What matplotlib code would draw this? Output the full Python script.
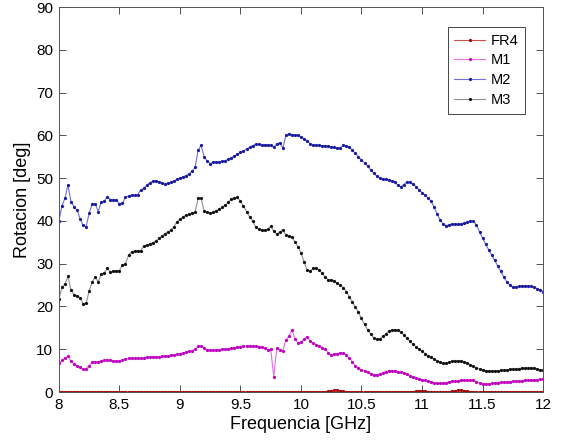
import numpy as np
import matplotlib
matplotlib.use('Agg')
import matplotlib.pyplot as plt

plt.rcParams['font.family'] = ['Liberation Sans', 'DejaVu Sans']

# frecuencia: 8 a 12 GHz, paso 0.025
f_start = 8.0
f_step = 0.025

fr4 = [0.1, 0.1, 0.1, 0.1, 0.1, 0.1, 0.1, 0.1,
       0.1, 0.1, 0.1, 0.1, 0.1, 0.1, 0.1, 0.1,
       0.1, 0.1, 0.1, 0.1, 0.1, 0.1, 0.1, 0.1,
       0.1, 0.1, 0.1, 0.1, 0.1, 0.1, 0.1, 0.1,
       0.1, 0.1, 0.1, 0.1, 0.1, 0.1, 0.1, 0.1,
       0.1, 0.1, 0.1, 0.1, 0.1, 0.1, 0.1, 0.1,
       0.1, 0.1, 0.1, 0.1, 0.1, 0.1, 0.1, 0.1,
       0.1, 0.1, 0.1, 0.1, 0.1, 0.1, 0.1, 0.1,
       0.1, 0.1, 0.1, 0.1, 0.1, 0.1, 0.1, 0.1,
       0.1, 0.1, 0.1, 0.1, 0.1, 0.1, 0.1, 0.1,
       0.1, 0.1, 0.1, 0.1, 0.1, 0.1, 0.1, 0.1,
       0.1, 0.2, 0.3, 0.4, 0.4, 0.3, 0.2, 0.1,
       0.1, 0.1, 0.1, 0.1, 0.1, 0.1, 0.1, 0.1,
       0.1, 0.1, 0.1, 0.1, 0.1, 0.1, 0.1, 0.1,
       0.1, 0.1, 0.1, 0.1, 0.1, 0.1, 0.2, 0.3,
       0.3, 0.2, 0.1, 0.1, 0.1, 0.1, 0.1, 0.1,
       0.1, 0.1, 0.2, 0.3, 0.4, 0.4, 0.3, 0.2,
       0.1, 0.1, 0.1, 0.1, 0.1, 0.1, 0.1, 0.1,
       0.1, 0.1, 0.1, 0.1, 0.1, 0.1, 0.1, 0.1,
       0.1, 0.1, 0.1, 0.1, 0.1, 0.1, 0.1, 0.1,
       0.1]

m1 = [6.7, 7.4, 8.0, 8.4, 7.2, 6.5, 6.1, 5.8,
      5.3, 5.5, 6.2, 7.0, 7.1, 7.1, 7.2, 7.5,
      7.6, 7.4, 7.3, 7.2, 7.3, 7.5, 7.7, 7.9,
      7.9, 7.9, 7.9, 7.9, 8.0, 8.1, 8.2, 8.3,
      8.3, 8.3, 8.4, 8.4, 8.5, 8.6, 8.7, 8.8,
      8.9, 9.1, 9.3, 9.5, 9.7, 10.0, 10.7, 10.8,
      10.4, 9.9, 9.8, 9.8, 9.9, 9.9, 10.0, 10.0,
      10.1, 10.2, 10.4, 10.5, 10.6, 10.7, 10.8, 10.8,
      10.8, 10.7, 10.6, 10.5, 10.3, 9.8, 10.0, 3.6,
      10.2, 9.9, 9.6, 12.2, 13.0, 14.5, 12.5, 11.4,
      11.8, 12.4, 12.9, 12.0, 11.4, 11.1, 10.8, 10.4,
      10.0, 9.2, 8.6, 8.8, 9.0, 9.2, 9.1, 8.6,
      8.0, 7.0, 6.1, 5.6, 5.2, 4.9, 4.6, 4.3,
      4.1, 4.0, 4.2, 4.5, 4.8, 5.0, 5.0, 5.0,
      4.8, 4.6, 4.4, 4.2, 3.8, 3.5, 3.2, 3.1,
      2.9, 2.8, 2.6, 2.4, 2.2, 2.0, 2.0, 2.0,
      2.2, 2.4, 2.6, 2.6, 2.6, 2.7, 2.8, 2.8,
      2.8, 2.7, 2.4, 2.1, 1.9, 1.9, 1.9, 2.0,
      2.1, 2.2, 2.3, 2.3, 2.4, 2.4, 2.5, 2.5,
      2.6, 2.6, 2.7, 2.8, 2.8, 2.9, 2.9, 3.0,
      3.0]

m2 = [40.0, 43.5, 45.3, 48.4, 44.5, 43.3, 42.5, 40.5,
      39.0, 38.7, 41.8, 43.9, 44.0, 42.2, 44.4, 44.6,
      45.7, 45.0, 45.0, 44.9, 44.0, 44.2, 45.5, 45.9,
      46.0, 46.0, 46.1, 47.2, 47.6, 48.3, 48.9, 49.3,
      49.4, 49.2, 48.9, 48.6, 48.8, 49.1, 49.4, 49.7,
      50.0, 50.3, 50.6, 51.0, 51.6, 52.5, 56.5, 57.7,
      55.0, 54.0, 53.4, 53.7, 53.8, 53.8, 53.9, 54.1,
      54.4, 54.8, 55.2, 55.6, 56.0, 56.4, 56.8, 57.2,
      57.6, 57.9, 57.9, 57.8, 57.8, 57.8, 57.7, 57.2,
      58.0, 58.3, 57.0, 60.0, 60.4, 60.2, 60.1, 60.0,
      59.7, 59.2, 58.7, 58.1, 57.8, 57.7, 57.7, 57.6,
      57.6, 57.5, 57.3, 57.2, 57.0, 57.1, 57.7, 57.6,
      57.3, 56.5, 55.8, 55.0, 54.2, 53.6, 52.8, 52.0,
      51.2, 50.5, 50.0, 49.8, 49.7, 49.6, 49.4, 49.2,
      48.3, 48.0, 48.5, 49.2, 49.0, 48.6, 48.0, 47.3,
      46.6, 46.0, 45.4, 44.6, 43.2, 41.6, 40.2, 39.2,
      38.9, 39.1, 39.3, 39.3, 39.2, 39.3, 39.5, 39.7,
      40.0, 40.0, 39.0, 37.5, 36.0, 34.6, 33.3, 32.0,
      30.8, 29.5, 28.2, 26.9, 25.8, 25.0, 24.5, 24.6,
      24.7, 24.8, 24.9, 24.8, 24.7, 24.5, 24.2, 23.9,
      23.5]

m3 = [21.7, 24.5, 25.2, 27.1, 23.8, 22.8, 22.5, 22.1,
      20.6, 20.8, 23.6, 25.8, 26.8, 25.8, 27.5, 27.9,
      28.9, 28.1, 28.3, 28.4, 28.4, 29.7, 30.0, 32.0,
      32.8, 33.0, 33.0, 33.0, 34.1, 34.4, 34.6, 34.9,
      35.3, 35.9, 36.5, 37.0, 37.4, 37.9, 38.6, 39.8,
      40.4, 41.0, 41.3, 41.6, 41.9, 42.0, 45.3, 45.3,
      42.3, 42.0, 41.9, 42.1, 42.4, 42.8, 43.2, 43.7,
      44.4, 45.1, 45.4, 45.5, 44.6, 43.5, 42.2, 41.0,
      40.0, 38.6, 38.1, 37.9, 37.9, 38.0, 38.8, 37.6,
      36.9, 37.4, 37.9, 36.7, 36.5, 36.2, 35.1, 34.0,
      32.5, 30.5, 28.5, 28.3, 28.9, 29.1, 28.5, 27.8,
      26.8, 26.3, 26.2, 25.9, 25.4, 25.0, 24.4, 23.5,
      22.3, 21.0, 19.8, 18.6, 17.2, 15.8, 14.6, 13.6,
      12.7, 12.3, 12.5, 13.0, 13.6, 14.2, 14.6, 14.6,
      14.4, 14.0, 13.4, 12.6, 11.9, 11.2, 10.6, 10.0,
      9.5, 9.0, 8.5, 8.1, 7.7, 7.3, 7.0, 6.8,
      6.8, 7.0, 7.2, 7.3, 7.3, 7.3, 7.1, 6.8,
      6.4, 6.0, 5.7, 5.4, 5.1, 5.0, 5.0, 5.0,
      5.0, 5.0, 5.1, 5.1, 5.2, 5.3, 5.3, 5.4,
      5.5, 5.6, 5.6, 5.7, 5.7, 5.6, 5.4, 5.2,
      5.1]

freq = f_start + f_step * np.arange(len(m2))

fig = plt.figure(figsize=(5.61, 4.41), dpi=100)
ax = fig.add_axes([0.105, 0.111, 0.863, 0.873])

series = [
    ('FR4', fr4, '#d05050', '#a00000'),
    ('M1', m1, '#e070e0', '#c000c0'),
    ('M2', m2, '#7070d8', '#1a1aa0'),
    ('M3', m3, '#909090', '#111111'),
]
for name, vals, lc, mc in series:
    ax.plot(freq, vals, '-', color=lc, lw=0.8, marker='.', markersize=2.6,
            markerfacecolor=mc, markeredgecolor=mc, label=name)

ax.set_xlim(8, 12)
ax.set_ylim(0, 90)
ax.set_xticks([8, 8.5, 9, 9.5, 10, 10.5, 11, 11.5, 12])
ax.set_xticklabels(['8', '8.5', '9', '9.5', '10', '10.5', '11', '11.5', '12'])
ax.set_yticks(range(0, 91, 10))
ax.tick_params(direction='in', top=True, right=True, length=5, width=0.6,
               labelsize=11, colors='#333333', labelcolor='black', pad=4)
for sp in ax.spines.values():
    sp.set_color('#555555')
    sp.set_linewidth(0.7)

ax.set_xlabel('Frequencia [GHz]', fontsize=13, labelpad=3)
ax.set_ylabel('Rotacion [deg]', fontsize=13, labelpad=4)

leg = ax.legend(loc='upper right', bbox_to_anchor=(0.963, 0.948), borderaxespad=0,
                fontsize=10.5, fancybox=False, framealpha=1, edgecolor='#444444',
                handlelength=2.1, handletextpad=0.4, borderpad=0.45,
                labelspacing=0.4)
leg.get_frame().set_linewidth(0.7)

fig.savefig('out.png', dpi=100)
